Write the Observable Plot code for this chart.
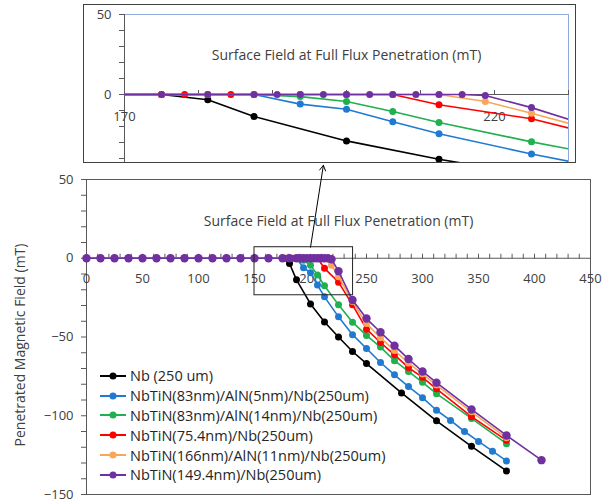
<!DOCTYPE html>
<html><head><meta charset="utf-8">
<script src="https://cdn.jsdelivr.net/npm/d3@7"></script>
<script src="https://cdn.jsdelivr.net/npm/@observablehq/plot@0.6"></script>
<style>
body{margin:0;background:#fff;}
#wrap{position:relative;width:610px;height:504px;font-family:"Open Sans",sans-serif;overflow:hidden;}
#main{position:absolute;left:0;top:0;}
#inset{position:absolute;left:83px;top:4px;width:493px;height:159px;box-sizing:border-box;border:1px solid #404040;background:#fff;overflow:hidden;}
#legend{position:absolute;left:100px;top:366px;font-size:14.5px;color:#262626;}
.row{height:19.8px;display:flex;align-items:center;white-space:nowrap;}
.row svg{margin-right:2px;}
</style></head><body>
<div id="wrap"><div id="main"></div><div id="inset"></div><div id="legend"></div></div>
<script>
const seriesNames = [
  "Nb (250 um)",
  "NbTiN(83nm)/AlN(5nm)/Nb(250um)",
  "NbTiN(83nm)/AlN(14nm)/Nb(250um)",
  "NbTiN(75.4nm)/Nb(250um)",
  "NbTiN(166nm)/AlN(11nm)/Nb(250um)",
  "NbTiN(149.4nm)/Nb(250um)"
];
const seriesColors = ["#000000", "#1f7bd1", "#1fb04f", "#ff0000", "#f9a55a", "#7030a0"];

const nbX = [0,12.5,25,37.5,50,62.5,75,87.5,100,112.5,125,137.5,150,162.5,175,181.25,187.5,200,212.5,225,237.5,250,281.25,312.5,343.75,375];
const nbY = [0,0,0,0,0,0,0,0,0,0,0,0,0,0,0,-3.3,-13.7,-29,-40.5,-50,-59.2,-66.9,-85.5,-103.2,-119.4,-135];

const blueX = [0,12.5,25,37.5,50,62.5,75,87.5,100,112.5,125,137.5,150,162.5,175,181.25,187.5,193.75,200,206.25,212.5,225,237.5,250,262.5,275,287.5,300,312.5,325,337.5,350,362.5,375];
const blueY = [0,0,0,0,0,0,0,0,0,0,0,0,0,0,0,0,0,-6,-9.2,-17,-24.5,-37.2,-48.5,-57.3,-66.2,-74,-81.5,-88.5,-96.5,-103,-110,-116.3,-122.5,-128.7];

const greenX = [0,12.5,25,37.5,50,62.5,75,87.5,100,112.5,125,137.5,150,162.5,175,181.25,187.5,193.75,200,206.25,212.5,225,237.5,250,262.5,275,287.5,300,312.5,343.75,375];
const greenY = [0,0,0,0,0,0,0,0,0,0,0,0,0,0,0,0,0,-1.3,-4.4,-10.6,-17.5,-29.6,-40.6,-49,-56.4,-65,-71.9,-78.8,-86,-101.7,-117.7];

const redX = [0,12.5,25,37.5,50,62.5,75,87.5,100,112.5,125,137.5,150,162.5,175,178.125,184.375,193.75,200,206.25,212.5,225,237.5,250,262.5,275,287.5,300,312.5,343.75,375];
const redY = [0,0,0,0,0,0,0,0,0,0,0,0,0,0,0,0,0,0,0,0,-6.4,-15.2,-29.6,-45,-53.5,-61.3,-69.4,-75.6,-82.9,-100.6,-115.6];

const orangeX = [0,12.5,25,37.5,50,62.5,75,87.5,100,112.5,125,137.5,150,162.5,175,181.25,187.5,193.75,200,206.25,212.5,218.75,225,237.5,250,262.5,275,287.5,300,312.5,343.75,375];
const orangeY = [0,0,0,0,0,0,0,0,0,0,0,0,0,0,0,0,0,0,0,0,0,-4.4,-11.7,-27.5,-41.5,-50.5,-58.5,-66.5,-73.5,-80.5,-97.5,-114];

const purpleX = [0,12.5,25,37.5,50,62.5,75,87.5,100,112.5,125,137.5,150,162.5,175,181.25,187.5,190.625,193.75,196.875,200,203.125,206.25,209.375,212.5,215.625,218.75,225,237.5,250,262.5,275,287.5,300,312.5,343.75,375,406.25];
const purpleY = [0,0,0,0,0,0,0,0,0,0,0,0,0,0,0,0,0,0,0,0,0,0,0,0,0,0,-0.6,-8.2,-26.5,-38.3,-47,-55.5,-64,-71.9,-79,-96,-112.5,-128.2];

const xTickLabels = [0,50,100,150,200,250,300,350,400,450];
const yTickLabels = [-150,-100,-50,0,50];
const insetXLabels = [170,220];
const insetYLabels = [0,50];
const title = "Surface Field at Full Flux Penetration (mT)";
const yTitle = "Penetrated Magnetic Field (mT)";

const seriesXY = [[nbX,nbY],[blueX,blueY],[greenX,greenY],[redX,redY],[orangeX,orangeY],[purpleX,purpleY]];
const series = seriesNames.map((name,i)=>({
  name, color: seriesColors[i],
  rows: seriesXY[i][0].map((x,j)=>({series:name, x, y: seriesXY[i][1][j]}))
}));

const axisColor = "#404040";
const font = "'Open Sans', sans-serif";

function seriesMarks(opts, bigLast) {
  const marks = [];
  series.forEach((s,i)=>{
    marks.push(Plot.line(s.rows, {x:"x", y:"y", stroke: s.color, strokeWidth: 1.6, ...opts}));
    marks.push(Plot.dot(s.rows, {x:"x", y:"y", fill: s.color, r: (bigLast && i===series.length-1) ? 4.2 : 3.5, stroke: "none", ...opts}));
  });
  return marks;
}

// Main chart
const mainYMin = -150, mainYMax = 50;
const mainTop = 179, mainBottom = 10, mainH = 504;
const zeroOffset = (mainH - mainTop - mainBottom) * (mainYMax - 0) / (mainYMax - mainYMin);

const main = Plot.plot({
  width: 610, height: 504,
  marginLeft: 86, marginRight: 20, marginTop: mainTop, marginBottom: mainBottom,
  x: {domain: [0, 450]},
  y: {domain: [mainYMin, mainYMax]},
  style: {fontFamily: font, fontSize: "13px", color: axisColor, background: "#fff"},
  marks: [
    Plot.frame({stroke: "#595959"}),
    Plot.ruleY([0], {stroke: "#595959"}),
    Plot.axisY({ticks: d3.range(-150, 51, 10), tickSize: 5, tickFormat: () => "", stroke: "#595959", label: null}),
    Plot.axisY({ticks: yTickLabels, tickSize: 0, tickPadding: 13, fontSize: 13, fill: axisColor, label: null}),
    Plot.axisX({anchor: "top", ticks: d3.range(0, 451, 10), tickSize: 5, tickFormat: () => "", stroke: "#595959", dy: zeroOffset, label: null}),
    Plot.text(xTickLabels, {x: d => d, y: 0, dy: 21, text: d => String(d), fontSize: 13, fill: axisColor}),
    Plot.text([title], {frameAnchor: "top", dy: 37, fontSize: 14, fill: axisColor}),
    Plot.text([yTitle], {frameAnchor: "left", rotate: -90, textAnchor: "middle", dx: -66, dy: 8, fontSize: 14, fill: axisColor}),
    ...seriesMarks({}, true),
    Plot.rect([0], {x1: 150, x2: 238, y1: -23.5, y2: 7, stroke: "#222", fill: "none", strokeWidth: 1}),
    Plot.arrow([0], {x1: 200, y1: 7, x2: 211.5, y2: 59, stroke: "#000", strokeWidth: 1, headLength: 9})
  ]
});
document.getElementById("main").appendChild(main);

// Inset chart
const insetYMin = -42.5, insetYMax = 50;
const inTop = 9, inBottom = 0, inH = 157;
const inZero = (inH - inTop - inBottom) * (insetYMax - 0) / (insetYMax - insetYMin);
const inset = Plot.plot({
  width: 491, height: inH,
  marginLeft: 40, marginRight: 7, marginTop: inTop, marginBottom: inBottom,
  x: {domain: [170, 230]},
  y: {domain: [insetYMin, insetYMax]},
  style: {fontFamily: font, fontSize: "13px", color: axisColor, background: "#fff"},
  marks: [
    Plot.frame({stroke: "#8faadc"}),
    Plot.ruleX([170], {stroke: "#595959"}),
    Plot.ruleY([0], {stroke: "#595959"}),
    Plot.axisY({ticks: d3.range(-40, 51, 10), tickSize: 5, tickFormat: () => "", stroke: "#595959", label: null}),
    Plot.axisY({ticks: insetYLabels, tickSize: 0, tickPadding: 13, fontSize: 13, fill: axisColor, label: null}),
    Plot.axisX({anchor: "top", ticks: d3.range(170, 231, 10), tickSize: 5, tickFormat: () => "", stroke: "#595959", dy: inZero, label: null}),
    Plot.text(insetXLabels, {x: d => d, y: 0, dy: 22, text: d => String(d), fontSize: 13, fill: axisColor}),
    Plot.text([title], {frameAnchor: "top", dy: 36, fontSize: 14, fill: axisColor}),
    ...seriesMarks({clip: true}, false)
  ]
});
document.getElementById("inset").appendChild(inset);

// Legend
const legend = document.getElementById("legend");
series.forEach(s => {
  const row = document.createElement("div");
  row.className = "row";
  row.innerHTML = `<svg width="28" height="12"><line x1="0" x2="26" y1="6" y2="6" stroke="${s.color}" stroke-width="2"/><circle cx="13" cy="6" r="3.5" fill="${s.color}"/></svg><span>${s.name}</span>`;
  legend.appendChild(row);
});
</script></body></html>
